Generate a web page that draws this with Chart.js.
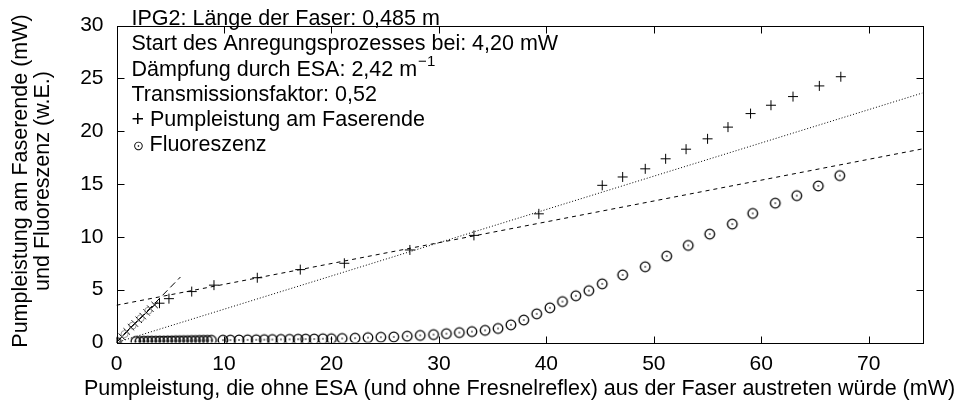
<!DOCTYPE html>
<html>
<head>
<meta charset="utf-8">
<script src="https://cdn.jsdelivr.net/npm/chart.js@4.4.1/dist/chart.umd.min.js"></script>
<style>
  html, body { margin: 0; padding: 0; background: #fff; }
  #wrap { width: 954px; height: 412px; }
</style>
</head>
<body>
<div id="wrap"><canvas id="chart" width="954" height="412"></canvas></div>
<script>
// ------------- DATA -------------
const xTicks = [0, 10, 20, 30, 40, 50, 60, 70];
const yTicks = [0, 5, 10, 15, 20, 25, 30];

// pump power at fibre end, '+' points
const pumpX = [0, 4.0, 4.88, 7.0, 9.07, 13.1, 17.1, 21.2, 27.3, 33.26, 39.3, 45.2, 47.1, 49.2, 51.1, 53.0, 55.0, 56.9, 59.0, 60.9, 62.95, 65.4, 67.4];
const pumpY = [0, 3.72, 4.15, 4.82, 5.43, 6.13, 6.9, 7.5, 8.76, 10.14, 12.18, 14.88, 15.67, 16.44, 17.39, 18.3, 19.28, 20.39, 21.67, 22.46, 23.28, 24.29, 25.16];

// pump power below the excitation start, 'x' points
const lowX = [0.5, 0.95, 1.35, 1.7, 2.07, 2.44, 2.8, 3.15, 3.55];
const lowY = [0.55, 1.05, 1.45, 1.8, 2.15, 2.5, 2.85, 3.2, 3.55];

// faint circles along the steep line near the origin
const greyX = [0.75, 1.5, 2.25, 2.95];
const greyY = [0.8, 1.6, 2.3, 3.0];

// fluorescence, circle-dot points
const fluoX = [0,
  1.8, 2.17, 2.54, 2.91, 3.28, 3.65, 4.02, 4.39, 4.76, 5.13, 5.5, 5.87, 6.24, 6.61, 6.98, 7.35, 7.72, 8.09, 8.46, 8.83,
  9.9, 10.6, 11.4, 12.2, 13.0, 13.75, 14.5, 15.3, 16.1, 16.9, 17.6, 18.4, 19.2, 20.0,
  21.0, 22.2, 23.4, 24.6, 25.8, 27.05, 28.26, 29.5, 30.7, 31.9, 33.07, 34.3, 35.5, 36.7, 37.9, 39.1, 40.33, 41.5, 42.74, 43.95,
  45.2, 47.1, 49.2, 51.2, 53.2, 55.2, 57.3, 59.2, 61.3, 63.3, 65.3, 67.3];
const fluoY = [0,
  0.1, 0.1, 0.12, 0.12, 0.13, 0.13, 0.14, 0.14, 0.15, 0.15, 0.16, 0.16, 0.17, 0.17, 0.18, 0.18, 0.19, 0.2, 0.2, 0.21,
  0.22, 0.23, 0.24, 0.25, 0.26, 0.27, 0.28, 0.29, 0.3, 0.31, 0.32, 0.33, 0.35, 0.36,
  0.38, 0.41, 0.46, 0.5, 0.53, 0.6, 0.67, 0.75, 0.84, 0.94, 1.03, 1.15, 1.33, 1.67, 2.13, 2.71, 3.28, 3.87, 4.42, 4.91,
  5.55, 6.4, 7.17, 8.18, 9.19, 10.26, 11.21, 12.22, 13.19, 13.9, 14.82, 15.8];

// fitted lines (end points)
const dashX = [0, 75];   const dashY = [3.53, 18.33];
const dotX = [0, 75];    const dotY = [0, 23.62];
const steepX = [0, 5.95]; const steepY = [0, 6.2];

// key text
const infoLines = [
  'IPG2: Länge der Faser: 0,485 m',
  'Start des Anregungsprozesses bei: 4,20 mW',
  'Dämpfung durch ESA: 2,42 m',
  'Transmissionsfaktor: 0,52',
  '+ Pumpleistung am Faserende',
  'Fluoreszenz'
];
const xTitle = 'Pumpleistung, die ohne ESA (und ohne Fresnelreflex) aus der Faser austreten würde (mW)';
const yTitle = ['Pumpleistung am Faserende (mW)', 'und Fluoreszenz (w.E.)'];

// ------------- helpers -------------
const FONT = "'Liberation Sans', Arial, Helvetica, sans-serif";
const TXT = 21.5;
Chart.defaults.font.family = FONT;
Chart.defaults.color = '#000';

const pts = (xs, ys) => xs.map((x, i) => ({x, y: ys[i]}));

// circle with a dot in the middle (gnuplot style)
function circleDot(r, color){
  const c = document.createElement('canvas');
  const s = Math.ceil(r * 2 + 4);
  c.width = s; c.height = s;
  const g = c.getContext('2d');
  g.strokeStyle = color; g.lineWidth = 1.3;
  g.beginPath(); g.arc(s/2, s/2, r, 0, Math.PI*2); g.stroke();
  g.fillStyle = color;
  g.fillRect(s/2 - 0.7, s/2 - 0.7, 1.4, 1.4);
  return c;
}

// frame and inward mirror ticks
const framePlugin = {
  id: 'frame',
  afterDatasetsDraw(chart){
    const {ctx, chartArea: a, scales: {x, y}} = chart;
    ctx.save();
    ctx.strokeStyle = '#000'; ctx.lineWidth = 1;
    const L = Math.round(a.left) + 0.5, R = Math.round(a.right) + 0.5;
    const T = Math.round(a.top) + 0.5, B = Math.round(a.bottom) + 0.5;
    ctx.strokeRect(L, T, R - L, B - T);
    const tl = 7;
    ctx.beginPath();
    xTicks.forEach(v => {
      const px = Math.round(x.getPixelForValue(v)) + 0.5;
      ctx.moveTo(px, B); ctx.lineTo(px, B - tl);
      ctx.moveTo(px, T); ctx.lineTo(px, T + tl);
    });
    yTicks.forEach(v => {
      const py = Math.round(y.getPixelForValue(v)) + 0.5;
      ctx.moveTo(L, py); ctx.lineTo(L + tl, py);
      ctx.moveTo(R, py); ctx.lineTo(R - tl, py);
    });
    ctx.stroke();
    ctx.restore();
  }
};

// key box in the top left corner plus the axis titles (drawn uncompressed)
const infoPlugin = {
  id: 'info',
  afterDraw(chart){
    const {ctx, chartArea: a} = chart;
    ctx.save();
    ctx.fillStyle = '#000';
    ctx.textBaseline = 'middle';
    const big = TXT + 'px ' + FONT;
    const x0 = a.left + 15, y0 = 19, gap = 25.3;
    infoLines.forEach((t, i) => {
      const yy = y0 + i * gap;
      ctx.font = big;
      if (i === 5) {
        // small circle-dot symbol in front of the entry
        ctx.font = '13px ' + FONT;
        ctx.fillText('\u2299', x0 + 1, yy + 1);
        ctx.font = big;
        ctx.fillText(t, x0 + 18, yy);
        return;
      }
      ctx.fillText(t, x0, yy);
      if (i === 2) {
        const w = ctx.measureText(t).width;
        ctx.font = '15px ' + FONT;
        ctx.fillText('\u22121', x0 + w + 1, yy - 8);
      }
    });

    // axis titles
    ctx.font = big;
    ctx.textAlign = 'center';
    ctx.fillText(xTitle, (a.left + a.right) / 2, 389);
    ctx.translate(0, 181);
    ctx.rotate(-Math.PI / 2);
    ctx.fillText(yTitle[0], 0, 21);
    ctx.fillText(yTitle[1], 0, 43.5);
    ctx.restore();
  }
};

// ------------- chart -------------
const line = (data, dash) => ({
  data, showLine: true, pointRadius: 0, borderColor: '#000', borderWidth: 1, borderDash: dash, fill: false
});

new Chart(document.getElementById('chart'), {
  type: 'scatter',
  data: {
    datasets: [
      line(pts(dashX, dashY), [4, 4]),
      line(pts(dotX, dotY), [1, 2]),
      line(pts(steepX, steepY), [7, 4]),
      { data: pts(greyX, greyY), pointStyle: 'circle', pointRadius: 3.5, borderColor: '#999', backgroundColor: 'rgba(0,0,0,0)', borderWidth: 1 },
      { data: pts(lowX, lowY), pointStyle: 'crossRot', pointRadius: 4.5, borderColor: '#000', borderWidth: 1 },
      { data: pts(pumpX, pumpY), pointStyle: 'cross', pointRadius: 5, borderColor: '#000', borderWidth: 1 },
      { data: pts(fluoX, fluoY), pointStyle: circleDot(4.8, '#000'), pointRadius: 5 }
    ]
  },
  options: {
    responsive: false,
    animation: false,
    events: [],
    layout: { padding: { top: 15.5, right: 31.5, left: 0, bottom: 0 } },
    plugins: { legend: { display: false }, tooltip: { enabled: false } },
    scales: {
      x: {
        type: 'linear', min: 0, max: 75,
        afterBuildTicks: s => { s.ticks = xTicks.map(v => ({value: v})); },
        afterFit: s => { s.height = 69.5; },
        grid: { display: false, drawTicks: false },
        border: { display: false },
        ticks: { padding: 9, font: { size: 21 }, color: '#000', maxRotation: 0 },
        title: { display: false }
      },
      y: {
        type: 'linear', min: 0, max: 30,
        afterBuildTicks: s => { s.ticks = yTicks.map(v => ({value: v})); },
        afterFit: s => { s.width = 116.5; },
        grid: { display: false, drawTicks: false },
        border: { display: false },
        ticks: { padding: 13, font: { size: 21 }, color: '#000' },
        title: { display: false }
      }
    }
  },
  plugins: [framePlugin, infoPlugin]
});
</script>
</body>
</html>
